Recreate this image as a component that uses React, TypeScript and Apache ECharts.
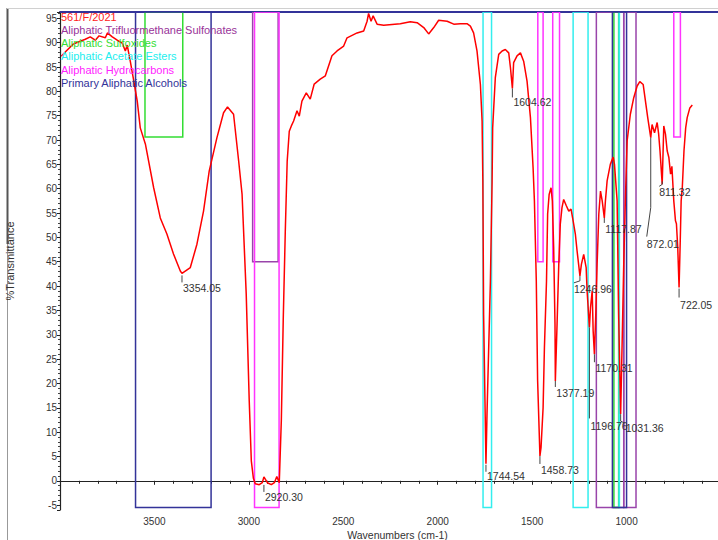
import React, { useEffect, useRef } from "react";
import * as echarts from "echarts";

// ---- spectrum (wavenumber cm-1, %T) ----
const wavenumbers = [
  3993, 3967, 3930, 3893, 3866, 3840, 3813, 3793, 3760, 3749, 3723, 3697, 3670, 3654, 3644, 3628, 3612, 3591, 3575, 3548,
  3504, 3469, 3434, 3399, 3363, 3354.05, 3310, 3275, 3240, 3210, 3169, 3134, 3113, 3081, 3054, 3036, 3014, 2998, 2987, 2976,
  2966, 2945, 2929, 2920.3, 2902, 2881, 2865, 2852, 2839, 2828, 2818, 2807, 2797, 2786, 2775, 2763, 2745, 2733, 2719, 2696,
  2675, 2654, 2622, 2595, 2560, 2533, 2498, 2480, 2427, 2392, 2374, 2366, 2353, 2342, 2321, 2286, 2198, 2145, 2109, 2074,
  2048, 2021, 1995, 1950, 1915, 1880, 1845, 1827, 1810, 1792, 1774, 1765, 1761, 1757, 1744.54, 1739, 1730, 1721, 1712, 1709,
  1695, 1677, 1659, 1642, 1624, 1615, 1604.62, 1598, 1580, 1562, 1545, 1527, 1509, 1495, 1488, 1478, 1471, 1458.73, 1453, 1442,
  1435, 1424, 1418, 1410, 1400, 1393, 1386, 1379, 1377.19, 1368, 1359, 1351, 1342, 1333, 1319, 1306, 1294, 1283, 1271, 1262,
  1246.96, 1239, 1227, 1214, 1209, 1196.76, 1191, 1182, 1177, 1170.31, 1163, 1156, 1147, 1138, 1129, 1117.87, 1112, 1103, 1086, 1071,
  1064, 1050, 1042, 1031.36, 1024, 1015, 1006, 997, 980, 962, 944, 930, 912, 900, 888, 872.01, 865, 852, 838, 830,
  823, 811.32, 803, 794, 785, 776, 767, 760, 750, 741, 736, 729, 722.05, 716, 711, 705, 696, 687, 679, 665,
  652,
];
const transmittance = [
  87.2, 88.3, 89.7, 90.3, 90.7, 91.2, 90.5, 91.4, 91.0, 92.0, 91.2, 90.5, 89.9, 88.3, 89.5, 86.2, 82.7, 78.0, 72.5, 69.2,
  60.2, 54.0, 50.7, 46.6, 43.1, 42.6, 43.8, 48.6, 55.4, 63.6, 70.5, 75.6, 76.8, 75.3, 65.7, 58.9, 38.4, 16.4, 4.1, 0.5,
  -0.6, -0.8, -0.4, 0.8, -0.4, -0.8, -0.4, 0.9, -0.4, 12.5, 33.0, 51.4, 65.7, 71.8, 72.9, 73.9, 76.0, 74.9, 78.0, 79.7,
  78.4, 81.5, 82.5, 83.2, 87.3, 88.3, 89.3, 91.0, 92.0, 92.4, 94.4, 96.0, 94.4, 95.5, 93.8, 93.6, 93.9, 94.3, 94.1, 93.1,
  91.8, 93.1, 94.6, 94.4, 93.8, 93.9, 93.9, 93.4, 92.0, 88.3, 81.4, 73.9, 61.6, 34.2, 3.5, 13.7, 27.4, 41.0, 61.6, 72.5,
  82.8, 87.6, 88.3, 88.6, 87.9, 84.9, 80.6, 85.9, 87.3, 87.9, 86.2, 82.1, 74.6, 64.3, 57.5, 41.0, 20.6, 5.1, 6.8, 15.0,
  27.4, 41.0, 54.8, 58.8, 60.2, 57.5, 47.9, 32.2, 20.5, 32.2, 44.5, 52.7, 56.1, 57.8, 56.5, 55.4, 55.8, 53.4, 50.6, 47.2,
  42.1, 44.5, 46.5, 43.8, 39.0, 31.5, 35.6, 39.0, 30.8, 26.0, 34.2, 44.5, 54.8, 59.5, 57.5, 54.0, 57.5, 61.6, 65.0, 66.5,
  65.0, 57.5, 34.2, 13.7, 27.4, 44.5, 58.2, 69.8, 75.3, 78.7, 81.1, 82.0, 81.4, 78.0, 74.6, 70.5, 73.2, 71.5, 73.6, 71.2,
  67.8, 60.9, 72.9, 71.2, 67.8, 66.4, 63.0, 64.6, 57.5, 53.4, 52.8, 47.9, 39.7, 48.9, 57.5, 60.2, 67.8, 72.5, 74.6, 76.6,
  77.2,
];

// ---- labelled peaks ----
const peakWavenumbers = [3354.05, 2920.3, 1744.54, 1604.62, 1458.73, 1377.19, 1246.96, 1196.76, 1170.31, 1117.87, 1031.36, 872.01, 811.32, 722.05];
const peakTransmittance = [42.6, 0.8, 3.5, 80.6, 5.1, 20.5, 42.1, 31.5, 26.0, 54.0, 13.7, 70.5, 60.9, 39.7];

// ---- functional-group bands: [from cm-1, to cm-1, top %T, bottom %T] ----
const sulfonateBands = [[2980, 2845, 96.3, 45], [1160, 1015, 96.3, -5.5], [1015, 950, 96.3, -5.5]];
const sulfoxideBands = [[3550, 3350, 96.3, 70.6], [1067, 1042, 96.3, -5.5]];
const acetateBands = [[1760, 1715, 96.3, -5.5], [1283, 1204, 96.3, -5.5], [1040, 1038, 96.3, -5.5]];
const hydrocarbonBands = [[2970, 2840, 96.3, -5.5], [1470, 1442, 96.3, 45], [1391, 1355, 96.3, 45], [750, 715, 96.3, 70.6]];
const alcoholBands = [[3600, 3200, 96.3, -5.5], [1075, 1000, 96.3, -5.5]];

const sampleName = "561/F/2021";
const groupNames = [
  "Aliphatic Trifluormethane Sulfonates",
  "Aliphatic Sulfoxides",
  "Aliphatic Acetate Esters",
  "Aliphatic Hydrocarbons",
  "Primary Aliphatic Alcohols",
];

// axis ranges
const xMin = 500, xMax = 4000, xStep = 500;
const yMin = -6, yMax = 96.3, yStep = 5;

// ---- layout (pixel offsets from each peak point) ----
const leaderOffsets: number[][][] = [
  [[0, 2], [0, 9]],
  [[0, 8], [0, 15]],
  [[0, 1], [0, 8]],
  [[0, 0], [0, 9]],
  [[0, 0], [0, 8]],
  [[0, 0], [0, 6]],
  [[0, 0], [0, 5], [-6, 7]],
  [[0, 0], [0, 91]],
  [[0, 0], [0, 8]],
  [[0, 0], [0, 5]],
  [[0, 0], [0, 7], [4, 9]],
  [[0, 0], [0, 70], [-4, 99]],
  [[0, -3], [0, 0], [-3, 2]],
  [[0, 1], [0, 10]],
];
const labelOffsets = [
  [1, 15], [1, 20], [1, 12], [1, 14], [1, 14], [1, 12], [-6, 13], [1, 99], [1, 14], [1, 11], [5, 14], [-4, 106], [-3, 8], [1, 17],
];

const FONT = '"Liberation Sans", Arial, sans-serif';
const groupColors = ["#993399", "#33dd33", "#22eeee", "#ff22ff", "#333399"];
const lineColors = ["#9944aa", "#33dd33", "#33eeee", "#ff33ff", "#333399"];

function bandSeries(bands: number[][], color: string) {
  return {
    type: "custom",
    coordinateSystem: "cartesian2d",
    data: bands,
    encode: { x: [0, 1], y: [2, 3] },
    clip: true,
    silent: true,
    z: 2,
    renderItem: (_p: any, api: any) => {
      const a = api.coord([api.value(0), api.value(2)]);
      const b = api.coord([api.value(1), api.value(3)]);
      return {
        type: "rect",
        shape: {
          x: Math.min(a[0], b[0]),
          y: Math.min(a[1], b[1]),
          width: Math.abs(b[0] - a[0]),
          height: Math.abs(b[1] - a[1]),
        },
        style: { fill: "none", stroke: color, lineWidth: 1.5 },
      };
    },
  };
}

export default function App() {
  const ref = useRef<HTMLDivElement>(null);
  useEffect(() => {
    if (!ref.current) return;
    const chart = echarts.init(ref.current, undefined, { renderer: "svg" });
    const legendLines = [sampleName, ...groupNames];
    const legendColors = ["#ff2020", ...groupColors];
    const option: any = {
      animation: false,
      backgroundColor: "#ffffff",
      grid: { left: 60, right: -3, top: 12, bottom: 30, containLabel: false, outerBoundsMode: "none" },
      xAxis: [
        {
          type: "value",
          min: xMin,
          max: xMax,
          interval: xStep,
          inverse: true,
          name: "Wavenumbers (cm-1)",
          nameLocation: "middle",
          nameGap: 19,
          nameMoveOverlap: false,
          nameTextStyle: { fontSize: 10.5, color: "#333", fontFamily: FONT, padding: [0, 0, 0, 14] },
          axisLine: { show: true, lineStyle: { color: "#222", width: 1.2 } },
          axisTick: { show: true, length: 4, lineStyle: { color: "#222" } },
          minorTick: { show: true, splitNumber: 5, length: 3, lineStyle: { color: "#222" } },
          axisLabel: {
            fontSize: 10,
            color: "#333",
            fontFamily: FONT,
            margin: 6,
            showMinLabel: false,
            showMaxLabel: false,
            formatter: (v: number) => String(v),
          },
          splitLine: { show: false },
        },
        {
          type: "value",
          position: "top",
          min: xMin,
          max: xMax,
          interval: xStep,
          inverse: true,
          axisLine: { show: true, lineStyle: { color: "#333399", width: 2 } },
          axisTick: { show: false },
          axisLabel: { show: false },
          splitLine: { show: false },
        },
      ],
      yAxis: {
        type: "value",
        min: yMin,
        max: yMax,
        minInterval: yStep,
        maxInterval: yStep,
        splitNumber: 20,
        name: "%Transmittance",
        nameLocation: "middle",
        nameGap: 45,
        nameRotate: 90,
        nameMoveOverlap: false,
        nameTextStyle: { fontSize: 11, color: "#333", fontFamily: FONT },
        axisLine: { show: true, lineStyle: { color: "#222", width: 1.2 } },
        axisTick: { show: true, length: 3, lineStyle: { color: "#222" } },
        minorTick: { show: true, splitNumber: 5, length: 2, lineStyle: { color: "#444" } },
        axisLabel: {
          fontSize: 10,
          color: "#333",
          fontFamily: FONT,
          margin: 3,
          showMinLabel: false,
          showMaxLabel: false,
          formatter: (v: number) => String(v),
        },
        splitLine: { show: false },
      },
      graphic: [
        { type: "line", shape: { x1: 7.5, y1: 8, x2: 7.5, y2: 244 }, style: { stroke: "#555", lineWidth: 2 }, silent: true },
        { type: "line", shape: { x1: 7.5, y1: 244, x2: 7.5, y2: 540 }, style: { stroke: "#999", lineWidth: 1 }, silent: true },
        { type: "line", shape: { x1: 7, y1: 8.5, x2: 718, y2: 8.5 }, style: { stroke: "#d0d0d0", lineWidth: 1 }, silent: true },
        ...legendLines.map((t, i) => ({
          type: "text",
          left: 61,
          top: 11 + i * 13.3,
          z: 100,
          silent: true,
          style: { text: t, fill: legendColors[i], font: `11px ${FONT}` },
        })),
      ],
      series: [
        bandSeries(sulfonateBands, lineColors[0]),
        bandSeries(sulfoxideBands, lineColors[1]),
        bandSeries(acetateBands, lineColors[2]),
        bandSeries(hydrocarbonBands, lineColors[3]),
        bandSeries(alcoholBands, lineColors[4]),
        {
          type: "line",
          data: wavenumbers.map((w, i) => [w, transmittance[i]]),
          showSymbol: false,
          symbol: "none",
          clip: true,
          z: 5,
          lineStyle: { color: "#ff0000", width: 1.5 },
          silent: true,
        },
        {
          type: "custom",
          coordinateSystem: "cartesian2d",
          data: peakWavenumbers.map((w, i) => [w, peakTransmittance[i], i]),
          encode: { x: 0, y: 1 },
          clip: false,
          silent: true,
          z: 10,
          renderItem: (_p: any, api: any) => {
            const i = api.value(2);
            const p = api.coord([api.value(0), api.value(1)]);
            const pts = leaderOffsets[i].map(([dx, dy]) => [p[0] + dx, p[1] + dy]);
            const t = labelOffsets[i];
            return {
              type: "group",
              children: [
                { type: "polyline", shape: { points: pts }, style: { stroke: "#444", lineWidth: 1, fill: null } },
                {
                  type: "text",
                  x: p[0] + t[0],
                  y: p[1] + t[1],
                  style: {
                    text: peakWavenumbers[i].toFixed(2),
                    fill: "#333",
                    font: `10.5px ${FONT}`,
                    align: "left",
                    verticalAlign: "middle",
                  },
                },
              ],
            };
          },
        },
      ],
    };
    chart.setOption(option);
    return () => chart.dispose();
  }, []);
  return (
    <div
      ref={ref}
      style={{ position: "fixed", left: 0, top: 0, width: 718, height: 540, background: "#fff" }}
    />
  );
}
